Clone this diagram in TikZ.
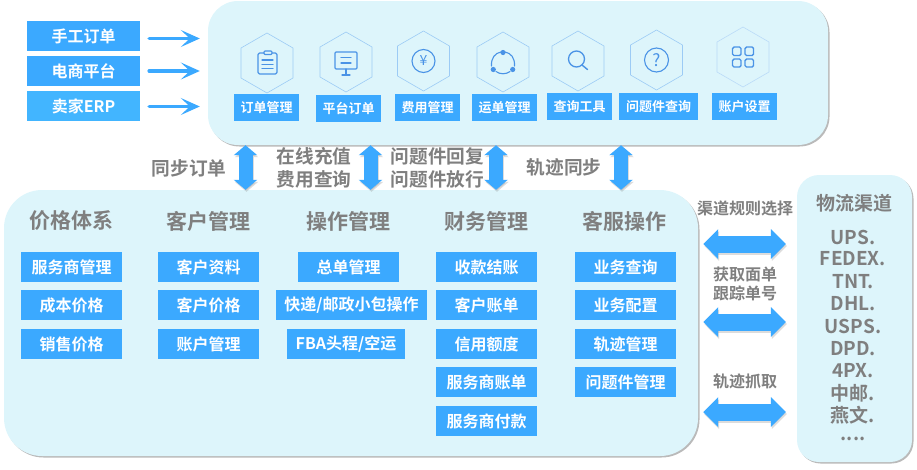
\documentclass[tikz,border=0pt]{standalone}
\usepackage{fontspec}
\setmainfont{Noto Sans CJK SC}[BoldFont={Noto Sans CJK SC Bold}]
\usetikzlibrary{shapes.geometric,shadows,arrows.meta}
\definecolor{bluebox}{HTML}{3BA9FF}
\definecolor{bluelite}{HTML}{42B5FF}
\definecolor{panelc}{HTML}{DDF5FB}
\definecolor{greytxt}{HTML}{7F7F7F}
\definecolor{iconc}{HTML}{4A93E6}
\definecolor{hexc}{HTML}{9CCBF5}
\tikzset{
  panel/.style={fill=panelc,rounded corners=#1,inner sep=0pt,
    drop shadow={shadow xshift=1.5pt,shadow yshift=-1.5pt,opacity=.45,fill=black!60}},
  bluenode/.style={fill=bluebox,text=white,inner sep=0pt,minimum height=30pt,font=\fontsize{16}{16}\selectfont\bfseries},
  srcbox/.style={bluenode,minimum width=113pt},
  itembox/.style={bluenode,minimum width=101pt},
  tagbox/.style={fill=bluebox,text=white,inner sep=0pt,minimum height=26.5pt,minimum width=65pt,font=\fontsize{13}{13}\selectfont\bfseries},
  hexnode/.style={draw=hexc,line width=.6pt,regular polygon,regular polygon sides=6,shape border rotate=30,minimum size=60pt,inner sep=0pt},
  heading/.style={text=greytxt,inner sep=0pt,font=\fontsize{21}{21}\selectfont\bfseries},
  midlabel/.style={text=greytxt,inner sep=0pt,align=center,font=\fontsize{18.7}{23}\selectfont\bfseries},
  sidelabel/.style={text=greytxt,inner sep=0pt,align=center,font=\fontsize{16}{19}\selectfont\bfseries},
  carrier/.style={text=greytxt,inner sep=0pt,font=\fontsize{19}{19}\selectfont\bfseries},
  inarrow/.style={draw=bluebox,line width=3.6pt,line cap=round,-{Stealth[length=19pt,width=17pt,inset=9pt]}},
  icon/.style={draw=iconc,line width=1.1pt,line cap=round,line join=round},
  vtip/.style={{Triangle[length=10pt,width=23pt]}-{Triangle[length=10pt,width=23pt]}},
  htip/.style={{Triangle[length=15pt,width=29pt]}-{Triangle[length=15pt,width=29pt]}},
  softshift/.style={draw=black!45,opacity=.3,transform canvas={shift={(1pt,-2pt)}}},
}
\newcommand{\vblock}[2]{%
  \draw[vtip,line width=14pt,softshift] (#1) -- (#2);
  \draw[vtip,line width=14pt,draw=bluebox] (#1) -- (#2);}
\newcommand{\hblock}[2]{%
  \draw[htip,line width=17pt,softshift,shorten <=5pt,shorten >=11pt] (#1) -- (#2);
  \draw[htip,line width=17pt,draw=bluebox,shorten <=5pt,shorten >=11pt] (#1) -- (#2);}
\begin{document}
\begin{tikzpicture}[x=1pt,y=-1pt]
\useasboundingbox (0,0) rectangle (917,469);

% panels
\node[panel=30pt,minimum width=620pt,minimum height=144pt] (top) at (518,73) {};
\node[panel=38pt,minimum width=694pt,minimum height=266pt] (main) at (351,323) {};
\node[panel=22pt,minimum width=115pt,minimum height=287pt] (chan) at (854.5,318.5) {};

% source boxes
\node[srcbox] (s1) at (83.5,36) {手工订单};
\node[srcbox] (s2) at (83.5,71) {电商平台};
\node[srcbox,fill=bluelite] (s3) at (83.5,106) {卖家ERP};
\draw[inarrow] ([shift={(9,2.5)}]s1.east) -- ([shift={(-8,2.5)}]s1.east -| top.west);
\draw[inarrow] ([shift={(9,0)}]s2.east) -- ([shift={(-8,0)}]s2.east -| top.west);
\draw[inarrow] ([shift={(9,0.5)}]s3.east) -- ([shift={(-8,0.5)}]s3.east -| top.west);

% hexagons
\node[hexnode] (h1) at (267,63) {};
\node[hexnode] (h2) at (346,62) {};
\node[hexnode] (h3) at (423.5,61) {};
\node[hexnode] (h4) at (503,62) {};
\node[hexnode] (h5) at (578,61) {};
\node[hexnode] (h6) at (656.5,60) {};
\node[hexnode,draw=hexc!70] (h7) at (743,57) {};

% icons
\begin{scope}[shift={(267,63)}]
  \draw[icon,rounded corners=1.5pt] (-9,-10) rectangle (10,11);
  \draw[icon,fill=panelc,rounded corners=1pt] (-3,-12) rectangle (5,-8.5);
  \draw[icon] (-5,-3) -- (6,-3) (-5,1.5) -- (6,1.5) (-5,5.5) -- (6,5.5);
\end{scope}
\begin{scope}[shift={(346,62)}]
  \draw[icon,rounded corners=1pt] (-11,-10) rectangle (11,7);
  \draw[icon] (-5,-4.5) -- (5,-4.5) (-5,1) -- (5,1) (0,7) -- (0,12) (-4,13) -- (4,13);
\end{scope}
\begin{scope}[shift={(423.5,61)}]
  \node[draw=iconc,line width=1.1pt,circle,minimum size=23pt,inner sep=0pt,text=iconc,font=\fontsize{14}{14}\selectfont] (yen) at (0,0) {¥};
\end{scope}
\begin{scope}[shift={(503,63)}]
  \draw[icon] (2,-11) .. controls (8,-10) and (12,-5) .. (11.5,3);
  \draw[icon] (-2,-11) .. controls (-8,-10) and (-12,-5) .. (-11.5,3);
  \draw[icon] (-7,8.5) .. controls (-3,11.5) and (3,11.5) .. (7,8.5);
  \fill[iconc] (0,-10.5) circle[radius=2.6] (-9.7,6.5) circle[radius=2.6] (9.7,6.5) circle[radius=2.6];
\end{scope}
\begin{scope}[shift={(576.5,59)}]
  \draw[icon,line width=1.3pt] (0,0) circle[radius=8];
  \draw[icon,line width=1.4pt] (5.5,6) -- (11,10.5);
\end{scope}
\begin{scope}[shift={(656.5,60)}]
  \node[draw=iconc,line width=1.1pt,circle,minimum size=24pt,inner sep=0pt,text=iconc,font=\fontsize{17}{17}\selectfont] (qm) at (0,0) {?};
\end{scope}
\begin{scope}[shift={(743,57)},rounded corners=1.5pt]
  \draw[icon,line width=1.4pt] (-10.5,-10) rectangle (-2,-1.5);
  \draw[icon,line width=1.4pt] (2,-10) rectangle (10.5,-1.5);
  \draw[icon,line width=1.4pt] (-10.5,2) rectangle (-2,10);
  \draw[icon,line width=1.4pt] (2,2) rectangle (10.5,10);
\end{scope}

% tags
\node[tagbox] (t1) at (266.5,107.5) {订单管理};
\node[tagbox] (t2) at (348.5,108.5) {平台订单};
\node[tagbox] (t3) at (427.5,107.5) {费用管理};
\node[tagbox] (t4) at (504.5,107.5) {运单管理};
\node[tagbox] (t5) at (579.5,106.5) {查询工具};
\node[tagbox,minimum width=79pt] (t6) at (658.5,106.5) {问题件查询};
\node[tagbox] (t7) at (744.5,106.5) {账户设置};

% vertical connectors
\coordinate (v1) at (245.5,168);
\coordinate (v2) at (370.5,168);
\coordinate (v3) at (496,168);
\coordinate (v4) at (621,168);
\vblock{v1 |- top.south}{v1 |- main.north}
\vblock{v2 |- top.south}{v2 |- main.north}
\vblock{v3 |- top.south}{v3 |- main.north}
\vblock{v4 |- top.south}{v4 |- main.north}
\node[midlabel] (m1) at (189,168) {同步订单};
\node[midlabel] (m2) at (314,167.5) {在线充值\\费用查询};
\node[midlabel] (m3) at (437.5,167.5) {问题件回复\\问题件放行};
\node[midlabel] (m4) at (564,167.5) {轨迹同步};

% columns
\node[heading] (c1) at (71.5,221) {价格体系};
\node[heading] (c2) at (208.5,221) {客户管理};
\node[heading] (c3) at (348,221) {操作管理};
\node[heading] (c4) at (486,221) {财务管理};
\node[heading] (c5) at (624,221) {客服操作};

\node[itembox] (a1) at (71.5,267) {服务商管理};
\node[itembox] (a2) at (71.5,305) {成本价格};
\node[itembox] (a3) at (71.5,344) {销售价格};
\node[itembox] (b1) at (208.5,267) {客户资料};
\node[itembox] (b2) at (208.5,305) {客户价格};
\node[itembox] (b3) at (208.5,344) {账户管理};
\node[itembox] (d1) at (348.5,267) {总单管理};
\node[itembox,minimum width=151pt] (d2) at (351.5,305) {快递/邮政小包操作};
\node[itembox,minimum width=118pt] (d3) at (346,344) {FBA头程/空运};
\node[itembox] (e1) at (486.5,267) {收款结账};
\node[itembox] (e2) at (486.5,305) {客户账单};
\node[itembox] (e3) at (486.5,344) {信用额度};
\node[itembox] (e4) at (486.5,382) {服务商账单};
\node[itembox] (e5) at (486.5,421) {服务商付款};
\node[itembox] (f1) at (625.5,267) {业务查询};
\node[itembox] (f2) at (625.5,305) {业务配置};
\node[itembox] (f3) at (625.5,344) {轨迹管理};
\node[itembox] (f4) at (625.5,382) {问题件管理};

% horizontal connectors
\coordinate (r1) at (745,244);
\coordinate (r2) at (745,322);
\coordinate (r3) at (745,412);
\hblock{main.east |- r1}{chan.west |- r1}
\hblock{main.east |- r2}{chan.west |- r2}
\hblock{main.east |- r3}{chan.west |- r3}
\node[sidelabel] (l1) at (745,208) {渠道规则选择};
\node[sidelabel] (l2) at (745,283.5) {获取面单\\跟踪单号};
\node[sidelabel] (l3) at (745,381) {轨迹抓取};

% channels
\node[text=greytxt,inner sep=0pt,font=\fontsize{19}{19}\selectfont\bfseries] (ct) at (854.5,203) {物流渠道};
\node[carrier] (k1) at (853,237) {UPS.};
\node[carrier] (k2) at (853,259) {FEDEX.};
\node[carrier] (k3) at (853,281.5) {TNT.};
\node[carrier] (k4) at (853,303.5) {DHL.};
\node[carrier] (k5) at (853,326) {USPS.};
\node[carrier] (k6) at (853,348.5) {DPD.};
\node[carrier] (k7) at (853,371) {4PX.};
\node[carrier] (k8) at (853,393) {中邮.};
\node[carrier] (k9) at (853,415.5) {燕文.};
\node[carrier] (k10) at (853,439) {....};
\end{tikzpicture}
\end{document}
